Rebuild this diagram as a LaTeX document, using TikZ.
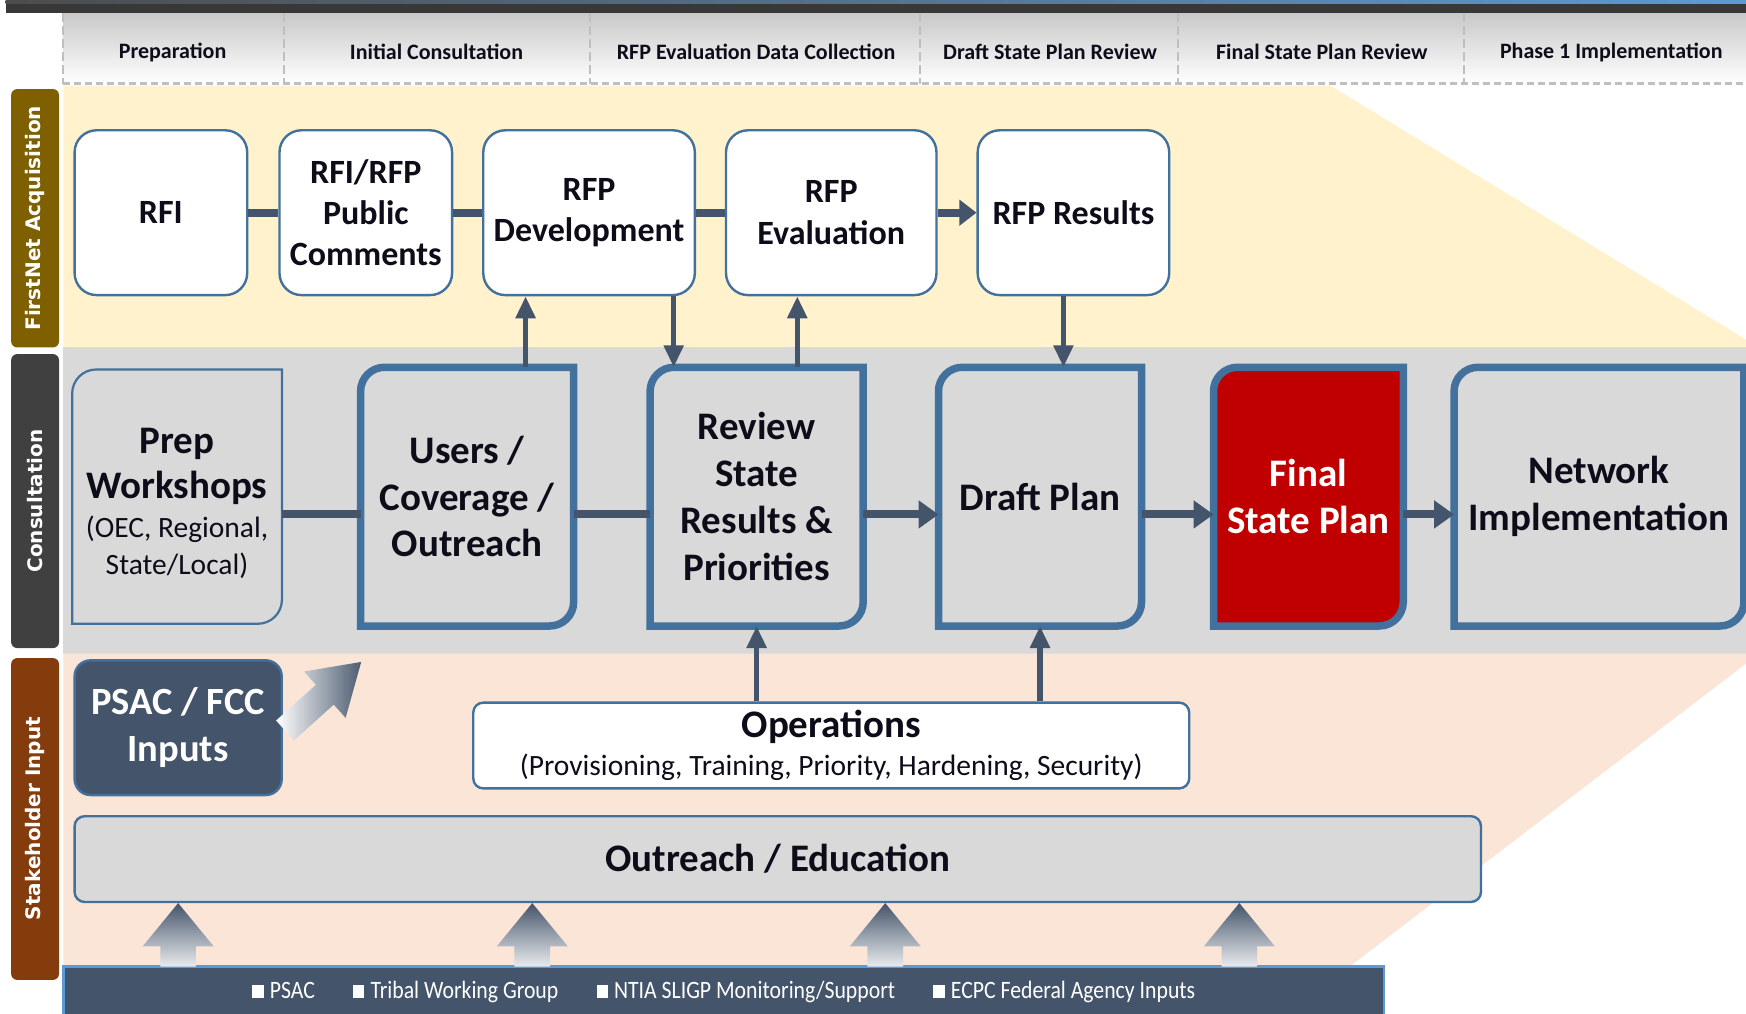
\documentclass[tikz,border=0pt]{standalone}
\usepackage{fontspec}
\usepackage{graphicx}
\setmainfont{Carlito}
\newfontfamily\lanefont{DejaVu Sans}
\usetikzlibrary{arrows.meta,calc}
\definecolor{slate}{HTML}{44546A}
\definecolor{bblue}{HTML}{41719C}
\definecolor{lblue}{HTML}{5B9BD5}
\definecolor{laneY}{HTML}{FFF2CC}
\definecolor{laneG}{HTML}{D9D9D9}
\definecolor{laneP}{HTML}{FBE5D6}
\definecolor{gold}{HTML}{7F6000}
\definecolor{dgray}{HTML}{404040}
\definecolor{barbrown}{HTML}{843C0C}
\definecolor{fred}{HTML}{C00000}
\definecolor{txt}{HTML}{0D0D1A}
\definecolor{dashc}{HTML}{BFBFBF}
\pgfdeclarelayer{lanes}
\pgfdeclarelayer{bg}
\pgfsetlayers{lanes,bg,main}
\newcommand\diagshape[2]{%
  \path[#2] ([yshift=-24pt]#1.north west) arc[start angle=180,end angle=90,radius=24pt]
    -- (#1.north east) -- ([yshift=24pt]#1.south east)
    arc[start angle=0,end angle=-90,radius=24pt] -- (#1.south west) -- cycle;}
\newcommand\sq{\rule[0.5pt]{13pt}{13pt}\hspace{7pt}}
\newcommand\subf{\mdseries\fontsize{29.5}{36.7}\selectfont}
\tikzset{
  boxat/.style args={#1,#2,#3,#4}{minimum width={(#3-#1)*1.1135pt},
    minimum height={(#4-#2)*1.1135pt}, at={({(#1+#3)/2},{(#2+#4)/2})}},
  topbox/.style={draw=bblue, line width=2.4pt, fill=white, rounded corners=22pt, inner sep=0pt,
    align=center, font=\bfseries\fontsize{34}{41.2}\selectfont, text=txt},
  cbox/.style={inner sep=0pt, align=center, font=\bfseries\fontsize{39}{46.8}\selectfont, text=txt},
  hdr/.style={font=\bfseries\fontsize{22}{26}\selectfont, text=txt},
  lanelab/.style={rotate=90, text=white, font=\lanefont\bfseries\fontsize{20}{24}\selectfont},
  conn/.style={draw=slate, line width=8pt},
  harrow/.style={draw=slate, line width=8pt, -{Triangle[length=20pt,width=27pt]}},
  harrowS/.style={draw=slate, line width=8pt, -{Triangle[length=17pt,width=25pt]}},
  vconn/.style={draw=slate, line width=5.5pt, -{Triangle[length=22pt,width=19pt]}},
  thickshape/.style={draw=bblue, line width=7.5pt, fill=laneG},
  thinshape/.style={draw=bblue, line width=2.2pt, fill=laneG},
  upblock/.style={top color=slate, bottom color=slate!12},
}
\begin{document}
\begin{tikzpicture}[x=1.1135pt, y=-1.1135pt]
\useasboundingbox (0,0) rectangle (1568,910);

% ---------- lanes and frame ----------
\begin{pgfonlayer}{lanes}
\fill[laneY] (57,77) -- (1195,77) -- (1568,305) -- (1568,312) -- (57,312) -- cycle;
\fill[laneG] (57,312) rectangle (1568,587);
\fill[laneP] (57,587) -- (1568,587) -- (1568,596) -- (1212,868) -- (57,868) -- cycle;
\shade[top color=black!22, bottom color=white] (57,10) rectangle (1568,75);
\fill[black!78] (5,0) rectangle (1568,12);
\shade[left color=black!70, right color=lblue] (5,0) rectangle (1568,3);
\draw[dashc, line width=2.6pt, dash pattern=on 7pt off 4pt] (57,75) -- (1568,75);
\foreach \x in {57,255,530,826,1058,1315}
  \draw[dashc, line width=2pt, dash pattern=on 9pt off 4pt] (\x,12) -- (\x,75);
\fill[gold, rounded corners=6pt] (10,80) rectangle (53,312);
\fill[dgray, rounded corners=6pt] (10,318) rectangle (53,582);
\fill[barbrown, rounded corners=6pt] (10,591) rectangle (53,880);
\end{pgfonlayer}

% ---------- header labels ----------
\node[hdr] (h1) at (155,47) {Preparation};
\node[hdr] (h2) at (392,47) {Initial Consultation};
\node[hdr] (h3) at (679,47) {RFP Evaluation Data Collection};
\node[hdr] (h4) at (943,47) {Draft State Plan Review};
\node[hdr] (h5) at (1187,47) {Final State Plan Review};
\node[hdr] (h6) at (1447,47) {Phase 1 Implementation};

% ---------- lane labels ----------
\node[lanelab] (l1) at (31.5,196) {FirstNet Acquisition};
\node[lanelab] (l2) at (31.5,450) {Consultation};
\node[lanelab] (l3) at (31.5,735) {Stakeholder Input};

% ---------- FirstNet acquisition row ----------
\node[topbox, boxat={67,117,222,265}] (rfi) {RFI};
\node[topbox, boxat={251,117,406,265}] (pub) {RFI/RFP\\Public\\Comments};
\node[topbox, boxat={434,117,624,265}] (dev) {RFP\\Development};
\node[topbox, boxat={652,117,841,265}] (eval) {RFP\\Evaluation};
\node[topbox, boxat={878,117,1050,265}] (res) {RFP Results};

% ---------- consultation row ----------
\node[cbox, font=\bfseries\fontsize{39}{36.7}\selectfont, boxat={65,338,253,566}] (prepT)
  {Prep\\[9pt]Workshops\\[2.3pt]{\subf(OEC, Regional,}\\{\subf State/Local)}};
\node[cbox, boxat={65,332,253,560}] (prep) {};
\node[cbox, boxat={324,330,515,562}] (users) {Users /\\Coverage /\\Outreach};
\node[cbox, boxat={584,330,775,562}] (rev) {Review\\State\\Results \&\\Priorities};
\node[cbox, boxat={843,330,1025,562}] (draft) {Draft Plan};
\node[cbox, text=white, boxat={1090,330,1260,562}] (final) {Final\\State Plan};
\node[cbox, boxat={1306,330,1566,562}] (net) {Network\\Implementation};

\begin{pgfonlayer}{bg}
\diagshape{prep}{thinshape}
\diagshape{users}{thickshape}
\diagshape{rev}{thickshape}
\diagshape{draft}{thickshape}
\diagshape{final}{thickshape, fill=fred}
\diagshape{net}{thickshape}
\end{pgfonlayer}

% ---------- stakeholder row ----------
\node[boxat={67,593,253,714}, inner sep=0pt, draw=bblue, line width=2.4pt, fill=slate,
  rounded corners=16pt, text=white, align=center,
  font=\bfseries\fontsize{38.5}{46.8}\selectfont] (psac) {PSAC / FCC\\Inputs};
\node[boxat={425,631,1068,708}, inner sep=0pt, draw=bblue, line width=2.4pt, fill=white,
  rounded corners=10pt, text=txt, align=center, font=\fontsize{29.5}{37.9}\selectfont] (ops)
  {{\bfseries\fontsize{39}{37.9}\selectfont Operations}\\{\mdseries\fontsize{29.5}{37.9}\selectfont(Provisioning, Training, Priority, Hardening, Security)}};
\node[boxat={67,733,1330,810}, inner sep=0pt, draw=bblue, line width=2.4pt, fill=laneG,
  rounded corners=10pt, text=txt, font=\bfseries\fontsize{39}{44}\selectfont] (outr) {Outreach / Education};
\node[boxat={57,868,1243,914}, inner sep=0pt, draw=lblue, line width=2.5pt, fill=slate,
  text=white, font=\fontsize{25}{28}\selectfont] (bar)
  {\scalebox{0.87}[1]{\sq PSAC\hspace{44pt}\sq Tribal Working Group\hspace{44pt}\sq NTIA SLIGP Monitoring/Support\hspace{44pt}\sq ECPC Federal Agency Inputs}};

% block arrows from the bottom bar to outreach
\foreach \c in {160,478,795,1113}
  \shade[upblock] (\c-16,868) -- (\c-16,850) -- (\c-32,850) -- (\c,811) -- (\c+32,850)
    -- (\c+16,850) -- (\c+16,868) -- cycle;

% PSAC diagonal arrow
\begin{scope}[shift={(256,656)}, rotate=42]
  \shade[left color=white, right color=slate!95] (0,-12) -- (48,-12) -- (48,-28) -- (92,0)
    -- (48,28) -- (48,12) -- (0,12) -- cycle;
\end{scope}

% ---------- connectors ----------
\draw[conn] (rfi) -- (pub);
\draw[conn] (pub) -- (dev);
\draw[conn] (dev) -- (eval);
\draw[harrowS] (eval) -- (res);

\coordinate (cy) at (0,462);
\draw[conn] (prep.east |- cy) -- (users.west |- cy);
\draw[conn] (users.east |- cy) -- (rev.west |- cy);
\draw[harrow] (rev.east |- cy) -- (draft.west |- cy);
\draw[harrow] (draft.east |- cy) -- (final.west |- cy);
\draw[harrow] (final.east |- cy) -- (net.west |- cy);

\coordinate (xa) at (472,0);
\coordinate (xb) at (605,0);
\coordinate (xc) at (716,0);
\coordinate (xd) at (955,0);
\draw[vconn] (users.north -| xa) -- (dev.south -| xa);
\draw[vconn] (dev.south -| xb) -- (rev.north -| xb);
\draw[vconn] (rev.north -| xc) -- (eval.south -| xc);
\draw[vconn] (res.south -| xd) -- (draft.north -| xd);
\draw[vconn] (ops.north -| rev.south) -- (rev.south);
\draw[vconn] (ops.north -| draft.south) -- (draft.south);
\end{tikzpicture}
\end{document}
